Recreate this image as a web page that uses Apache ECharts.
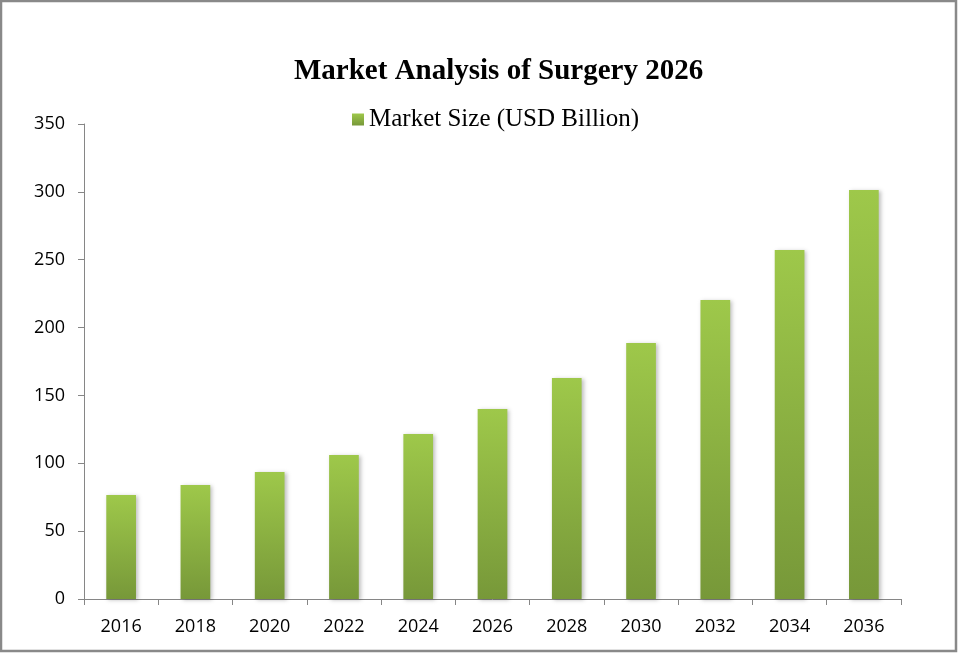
<!DOCTYPE html>
<html>
<head>
    <meta charset="UTF-8">
    <title>Market Analysis of Surgery 2026</title>
    <script src="https://cdn.jsdelivr.net/npm/echarts@6.0.0/dist/echarts.min.js"></script>
    <style>
        html, body { margin: 0; padding: 0; background: #fff; }
        #chart { width: 958px; height: 653px; }
    </style>
</head>
<body>
    <div id="chart"></div>
    <script>
        // data
        var years = ['2016', '2018', '2020', '2022', '2024', '2026', '2028', '2030', '2032', '2034', '2036'];
        var marketSize = [76.6, 84.0, 93.6, 106.1, 121.6, 140.0, 162.9, 188.7, 220.3, 257.2, 301.4];
        var seriesName = 'Market Size (USD Billion)';

        var chart = echarts.init(document.getElementById('chart'));

        var barFill = new echarts.graphic.LinearGradient(0, 0, 0, 1, [
            {offset: 0, color: '#9ec84a'},
            {offset: 1, color: '#779839'}
        ]);

        var option = {
            backgroundColor: '#fff',
            animation: false,
            title: {
                text: 'Market Analysis of Surgery 2026',
                left: 289,
                top: 52,
                textStyle: {
                    fontFamily: 'Liberation Serif',
                    fontWeight: 'bold',
                    fontSize: 29,
                    color: '#000'
                }
            },
            legend: {
                top: 102,
                left: 347,
                icon: 'rect',
                itemWidth: 12,
                itemHeight: 12,
                itemGap: 10,
                data: [seriesName],
                textStyle: {
                    fontFamily: 'Liberation Serif',
                    fontSize: 25,
                    color: '#000'
                }
            },
            grid: {
                left: 84,
                right: 57,
                top: 124,
                bottom: 54,
                containLabel: false
            },
            xAxis: {
                type: 'category',
                data: years,
                boundaryGap: true,
                axisLine: {lineStyle: {color: '#868686', width: 1}},
                axisTick: {show: true, length: 6, lineStyle: {color: '#868686'}},
                axisLabel: {
                    margin: 19,
                    fontFamily: 'Open Sans',
                    fontSize: 18,
                    color: '#000'
                }
            },
            yAxis: {
                type: 'value',
                min: 0,
                max: 350,
                interval: 50,
                splitLine: {show: false},
                axisLine: {show: true, lineStyle: {color: '#868686', width: 1}},
                axisTick: {show: true, length: 6, lineStyle: {color: '#868686'}},
                axisLabel: {
                    margin: 19,
                    fontFamily: 'Open Sans',
                    fontSize: 18,
                    color: '#000'
                }
            },
            series: [
                {
                    name: seriesName,
                    type: 'bar',
                    data: marketSize,
                    barWidth: '40%',
                    itemStyle: {
                        color: barFill,
                        shadowBlur: 4,
                        shadowOffsetX: 2,
                        shadowOffsetY: 1,
                        shadowColor: 'rgba(0, 0, 0, 0.25)'
                    }
                }
            ],
            graphic: [
                {
                    type: 'rect',
                    shape: {x: 1, y: 1, width: 955, height: 650},
                    style: {fill: 'none', stroke: '#898989', lineWidth: 2.5},
                    silent: true
                }
            ]
        };

        chart.setOption(option);
    </script>
</body>
</html>
